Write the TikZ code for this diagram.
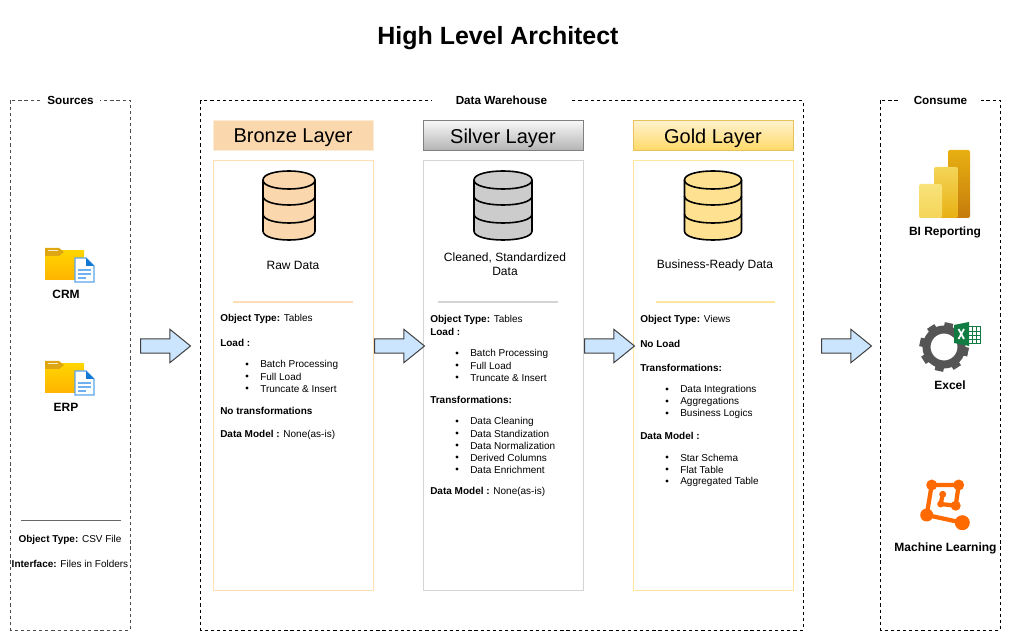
\documentclass[tikz,border=0pt]{standalone}
\usepackage{fontspec}
\setmainfont{Liberation Sans}
\usetikzlibrary{shapes.arrows}

\definecolor{bronzefill}{HTML}{FAD7AC}
\definecolor{bronzeline}{HTML}{FFDDB5}
\definecolor{silverfill}{HTML}{CCCCCC}
\definecolor{silverline}{HTML}{D4D4D4}
\definecolor{goldfill}{HTML}{FFE291}
\definecolor{goldline}{HTML}{FFE69A}
\definecolor{goldtop}{HTML}{FFF2CC}
\definecolor{goldbot}{HTML}{FFD966}
\definecolor{goldedge}{HTML}{E6C25A}
\definecolor{arrowfill}{HTML}{CCE5FF}
\definecolor{gearcol}{HTML}{555555}
\definecolor{xlgreen}{HTML}{107C41}
\definecolor{mlorange}{HTML}{FF6A00}
\definecolor{foldertop}{HTML}{FFD400}
\definecolor{folderbot}{HTML}{FFB400}
\definecolor{foldertab}{HTML}{DFA614}
\definecolor{sheetedge}{HTML}{5AA5EA}
\definecolor{sheetline}{HTML}{6FB0F0}
\definecolor{sheetfold}{HTML}{0F78D4}
\definecolor{barc}{HTML}{E8B012}
\definecolor{bard}{HTML}{C47B0C}
\definecolor{barb}{HTML}{F4D558}
\definecolor{bara}{HTML}{F8E27A}

\tikzset{
  frameline/.style={line width=0.75pt,dash pattern=on 2.4pt off 2.2pt},
  framelabel/.style={fill=white,font=\fontsize{8.8}{11}\selectfont\bfseries,inner sep=0pt,minimum height=12pt},
  headbox/.style={minimum width=120pt,minimum height=22.5pt,inner sep=0pt,text depth=0pt,line width=0.75pt,font=\fontsize{15}{18}\selectfont},
  layerbox/.style={line width=0.75pt,fill=white},
  sublabel/.style={font=\fontsize{9}{10.5}\selectfont,align=center,inner sep=0pt},
  toollabel/.style={font=\fontsize{9}{11}\selectfont\bfseries,inner sep=0pt},
  bodytxt/.style={anchor=west,font=\fontsize{7.5}{9}\selectfont,inner sep=0pt,yshift=-0.45pt},
  flowarrow/.style={single arrow,anchor=tail,draw=black!75,fill=arrowfill,line width=0.75pt,inner sep=5pt,
    minimum height=37.5pt,minimum width=22.5pt,single arrow tip angle=78,single arrow head indent=0pt}
}

% database drum, top centre at (#1,170), half width #3
\newcommand{\dbicon}[3]{
  \begin{scope}[shift={(#1,170)}]
    \draw[fill=#2,line width=1.2pt] (-#3,10) .. controls (-#3,-2) and (#3,-2) .. (#3,10)
      -- (#3,61) .. controls (#3,73) and (-#3,73) .. (-#3,61) -- cycle;
    \draw[line width=1.2pt] (-#3,10) .. controls (-#3,22) and (#3,22) .. (#3,10);
    \draw[line width=1.2pt] (-#3,26) .. controls (-#3,38) and (#3,38) .. (#3,26);
    \draw[line width=1.2pt] (-#3,44) .. controls (-#3,56) and (#3,56) .. (#3,44);
  \end{scope}
}

% folder with a sheet, tab corner at (#1,#2)
\newcommand{\foldericon}[2]{
  \begin{scope}[shift={(#1,#2)}]
    \shade[top color=foldertop,bottom color=folderbot] (0,3) rectangle (39,32);
    \fill[foldertab] (0,0) -- (14,0) -- (19,4) -- (14,8) -- (0,8) -- cycle;
    \fill[white!80!foldertab] (3,2) rectangle (13,3.5);
    \draw[fill=white,draw=sheetedge,line width=0.8pt] (30,10) -- (41,10) -- (49,18) -- (49,34) -- (30,34) -- cycle;
    \fill[sheetfold] (41,10) -- (49,18) -- (41,18) -- cycle;
    \draw[sheetline,line width=1pt] (33,22) -- (46,22) (33,26) -- (46,26) (33,30) -- (41,30);
  \end{scope}
}

\begin{document}
\begin{tikzpicture}[x=0.75pt,y=-0.75pt]
  \useasboundingbox (0,0) rectangle (1011,641);

  \node[font=\fontsize{18.7}{22}\selectfont\bfseries] (title) at (498,38) {High Level Architect};

  % outer frames
  \draw[frameline,black!70] (10.5,100.5) rectangle (130.5,630);
  \draw[frameline] (200.5,100.5) rectangle (803,630);
  \draw[frameline] (880.5,100.5) rectangle (1000.5,630);
  \node[framelabel,minimum width=44pt] (srclabel) at (70.5,100) {Sources};
  \node[framelabel,minimum width=104pt] (dwlabel) at (501.5,100) {Data Warehouse};
  \node[framelabel,minimum width=61pt] (conlabel) at (940.5,100) {Consume};

  % sources
  \foldericon{45}{248}
  \foldericon{45}{361}
  \node[toollabel] (crm) at (66,294) {CRM};
  \node[toollabel] (erp) at (66,407) {ERP};
  \draw[black!60,line width=0.75pt] (21,520.5) -- (121,520.5);
  \node[font=\fontsize{7.5}{9}\selectfont,inner sep=0pt] (srctype) at (70,539.5) {\textbf{Object Type:} CSV File};
  \node[font=\fontsize{7.5}{9}\selectfont,inner sep=0pt] (srcif) at (70,563.5) {\textbf{Interface:} Files in Folders};

  % bronze
  \node[headbox,fill=bronzefill,draw=bronzefill!50] (bronzehead) at (293,136) {Bronze Layer};
  \draw[layerbox,draw=bronzeline] (213,161) rectangle (373,590);
  \dbicon{289}{bronzefill}{26}
  \node[sublabel] (bronzesub) at (293,265.5) {Raw Data};
  \draw[bronzeline,line width=0.9pt] (233,302) -- (353,302);
  \foreach \y/\txt in {318/\textbf{Object Type:} Tables,342/\textbf{Load :},410/\textbf{No transformations},434/\textbf{Data Model :} None(as-is)}
    \node[bodytxt] (bz\y) at (220,\y) {\txt};
  \foreach \y/\txt in {364/Batch Processing,376/Full Load,388/Truncate \& Insert}{
    \fill (247,\y) circle (1.6);
    \node[bodytxt] (bz\y) at (260,\y) {\txt};
  }

  % silver
  \node[headbox,top color=black!3,bottom color=black!30,draw=black!50] (silverhead) at (503,136) {Silver Layer};
  \draw[layerbox,draw=silverline] (423,161) rectangle (583,590);
  \dbicon{503}{silverfill}{29}
  \node[sublabel] (silversub) at (505,264.5) {Cleaned, Standardized\\Data};
  \draw[silverline,line width=0.9pt] (438,302) -- (558,302);
  \foreach \y/\txt in {319/\textbf{Object Type:} Tables,331/\textbf{Load :},399/\textbf{Transformations:},491/\textbf{Data Model :} None(as-is)}
    \node[bodytxt] (sv\y) at (430,\y) {\txt};
  \foreach \y/\txt in {353/Batch Processing,365/Full Load,377/Truncate \& Insert,421/Data Cleaning,433/Data Standization,445/Data Normalization,457/Derived Columns,469/Data Enrichment}{
    \fill (457,\y) circle (1.6);
    \node[bodytxt] (sv\y) at (470,\y) {\txt};
  }

  % gold
  \node[headbox,top color=goldtop,bottom color=goldbot,draw=goldedge] (goldhead) at (713,136) {Gold Layer};
  \draw[layerbox,draw=goldline] (633,161) rectangle (793,590);
  \dbicon{713}{goldfill}{28.5}
  \node[sublabel] (goldsub) at (715,265.5) {Business-Ready Data};
  \draw[goldline,line width=0.9pt] (656,302) -- (775,302);
  \foreach \y/\txt in {319/\textbf{Object Type:} Views,343/\textbf{No Load},367/\textbf{Transformations:},435/\textbf{Data Model :}}
    \node[bodytxt] (gd\y) at (640,\y) {\txt};
  \foreach \y/\txt in {389/Data Integrations,401/Aggregations,413/Business Logics,457/Star Schema,469/Flat Table,481/Aggregated Table}{
    \fill (667,\y) circle (1.6);
    \node[bodytxt] (gd\y) at (680,\y) {\txt};
  }

  % flow arrows
  \node[flowarrow] (flowa) at (140,346) {};
  \node[flowarrow] (flowb) at (374,346) {};
  \node[flowarrow] (flowc) at (584,346) {};
  \node[flowarrow] (flowd) at (821,346) {};

  % power bi bars
  \shade[rounded corners=1.5pt,top color=barc,bottom color=bard] (948,150) rectangle (970,218);
  \shade[rounded corners=1.5pt,top color=barb,bottom color=barc] (934,167) rectangle (958,218);
  \shade[rounded corners=1.5pt,top color=bara,bottom color=barb] (919,184) rectangle (942,218);
  \node[toollabel] (bilabel) at (945,232) {BI Reporting};

  % excel gear
  \begin{scope}[shift={(944,347)}]
    \draw[gearcol,line width=6pt] (0,0) circle (17.5);
    \foreach \a in {12,57,...,372}
      \draw[gearcol,line width=6.5pt] (\a:15) -- (\a:24.5);
  \end{scope}
  \fill[white] (968,325) rectangle (981,344);
  \draw[xlgreen,fill=white,line width=0.6pt] (968,326) rectangle (980,343);
  \draw[xlgreen,line width=0.6pt] (968,331) -- (980,331) (968,335) -- (980,335) (968,339) -- (980,339) (972,326) -- (972,343) (976,326) -- (976,343);
  \fill[xlgreen] (954,325) -- (969,322) -- (969,346) -- (954,343) -- cycle;
  \draw[white,line width=1.3pt] (958.5,329) -- (964,339) (964,329) -- (958.5,339);
  \node[toollabel] (xllabel) at (950,385) {Excel};

  % ml graph
  \draw[mlorange,line width=3.2pt] (926.7,515) -- (931.7,485) -- (958.7,485) -- (955.7,505.7) -- (940.7,504) -- (942.7,494.3);
  \draw[mlorange,line width=3.2pt] (926.7,515) -- (962.3,522.7);
  \fill[mlorange] (931.7,485) circle (5.5) (958.7,485) circle (5.5) (926.7,515) circle (6.5)
    (962.3,522.7) circle (7.5) (955.7,505.7) circle (5) (940.7,504) circle (3.5) (942.7,494.3) circle (3.5);
  \node[toollabel] (mllabel) at (945.5,548) {Machine Learning};
\end{tikzpicture}
\end{document}
